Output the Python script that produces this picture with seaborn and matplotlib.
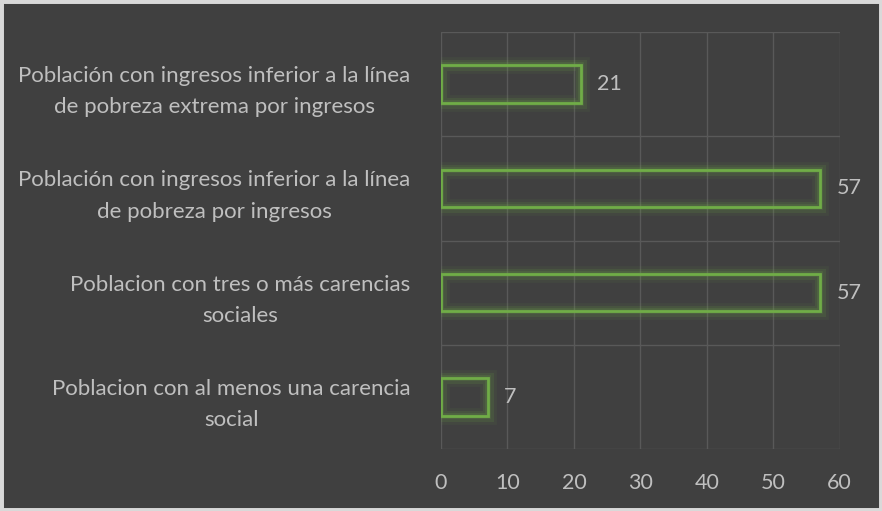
import matplotlib
matplotlib.use("Agg")
import matplotlib.pyplot as plt
import matplotlib.patheffects as pe
from matplotlib.patches import Rectangle
import seaborn as sns
import pandas as pd

# === Data ===
categories = [
    "Población con ingresos inferior a la línea\nde pobreza extrema por ingresos",
    "Población con ingresos inferior a la línea\nde pobreza por ingresos",
    "Poblacion con tres o más carencias\nsociales",
    "Poblacion con al menos una carencia\nsocial",
]
values = [21, 57, 57, 7]
x_ticks = [0, 10, 20, 30, 40, 50, 60]

df = pd.DataFrame({"categoria": categories, "valor": values})

# === Style ===
bg = "#404040"
green = "#70AD47"
grid_col = "#595959"
text_col = "#BFBFBF"

sns.set_style("dark")
plt.rcParams["font.family"] = ["Lato", "DejaVu Sans"]

fig = plt.figure(figsize=(8.82, 5.11), dpi=100)
fig.patch.set_facecolor(bg)
ax = fig.add_axes([0.5, 0.1213, 0.452, 0.8161])
ax.set_facecolor(bg)

sns.barplot(
    data=df, y="categoria", x="valor", orient="h",
    fill=False, edgecolor=green, linewidth=2, width=0.36, ax=ax
)

# glow around the bars
for p in ax.patches:
    p.set_path_effects([
        pe.Stroke(linewidth=12, foreground=green, alpha=0.07),
        pe.Stroke(linewidth=8, foreground=green, alpha=0.13),
        pe.Stroke(linewidth=4, foreground=green, alpha=0.2),
        pe.Normal(),
    ])

# === Axes ===
ax.set_xlim(0, 60)
ax.set_ylim(3.5, -0.5)
ax.set_xticks(x_ticks)
ax.set_yticks([-0.5, 0.5, 1.5, 2.5, 3.5], minor=True)
ax.grid(False)
ax.grid(True, axis="x", which="major", color=grid_col, linewidth=1)
ax.grid(True, axis="y", which="minor", color=grid_col, linewidth=1)
ax.set_axisbelow(True)
for s in ax.spines.values():
    s.set_visible(False)

ax.set_xlabel("")
ax.set_ylabel("")
ax.tick_params(axis="x", which="both", length=0, pad=17, labelsize=15.5, labelcolor=text_col)
ax.tick_params(axis="y", which="both", length=0, pad=22, labelsize=16, labelcolor=text_col)
for lbl in ax.get_yticklabels():
    lbl.set_multialignment("center")
    lbl.set_linespacing(1.7)

# === Value labels ===
ax.bar_label(ax.containers[0], labels=[str(v) for v in values],
             padding=12, color=text_col, fontsize=15.5)

# === Border ===
fig.patches.append(Rectangle((0, 0), 1, 1, transform=fig.transFigure,
                             fill=False, edgecolor="#D9D9D9", linewidth=5))

plt.savefig("out.png", dpi=100, facecolor=bg)
plt.close()
